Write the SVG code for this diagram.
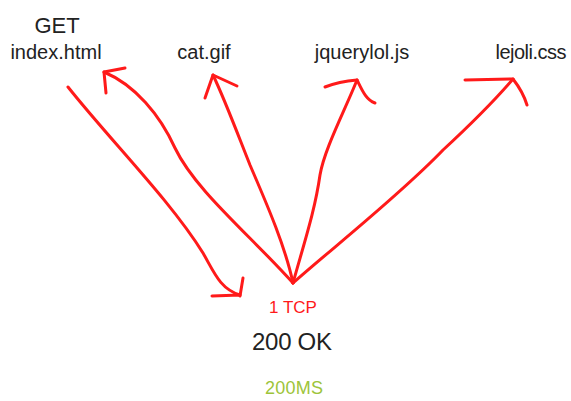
<svg xmlns="http://www.w3.org/2000/svg" width="571" height="401" viewBox="0 0 571 401">
<style>
text{font-family:"Liberation Sans",Arial,sans-serif;fill:#222}
.f{font-size:20px}
.c{fill:none;stroke:#ff1a1a;stroke-width:3;stroke-linecap:round;stroke-linejoin:round}
</style>
<rect width="571" height="401" fill="#fff"/>
<g id="connectors">
<path class="c" d="M68,87 C110,140 170,200 203,253 C214,272 220,289 240,295"/>
<path class="c" d="M212,296 L240,295 M243,278 L240,296"/>
<path class="c" d="M293,283 C250,235 195,190 175,148 C160,115 135,85 104,72"/>
<path class="c" d="M104,72 L125,68 M104,72 L106,93"/>
<path class="c" d="M293,283 C285,245 265,200 250,165 C238,135 225,100 213,75"/>
<path class="c" d="M213,75 L205,98 M213,75 L237,86"/>
<path class="c" d="M293,283 C305,240 315,210 320,175 C324,150 345,110 357,80"/>
<path class="c" d="M325,87 C335,83 345,81 357,80 C362,90 366,100 375,103"/>
<path class="c" d="M293,283 C330,250 400,195 443,150 C470,125 495,100 513,79"/>
<path class="c" d="M465,80 L513,79 C520,88 524,95 527,105"/>
</g>
<g id="get"><text x="57" y="33" font-size="22" text-anchor="middle">GET</text></g>
<g id="index"><text class="f" x="56" y="59" text-anchor="middle">index.html</text></g>
<g id="cat"><text class="f" x="204" y="59" text-anchor="middle">cat.gif</text></g>
<g id="jquery"><text class="f" x="362" y="59" text-anchor="middle">jquerylol.js</text></g>
<g id="lejoli"><text class="f" x="531" y="59" text-anchor="middle" textLength="71">lejoli.css</text></g>
<g id="tcp"><text x="293" y="313" font-size="17" text-anchor="middle" style="fill:#ff1a1a">1 TCP</text></g>
<g id="ok"><text x="292" y="350" font-size="24" text-anchor="middle" textLength="80">200 OK</text></g>
<g id="ms"><text x="294" y="394" font-size="18" text-anchor="middle" textLength="58" style="fill:#9dc43a">200MS</text></g>
</svg>
